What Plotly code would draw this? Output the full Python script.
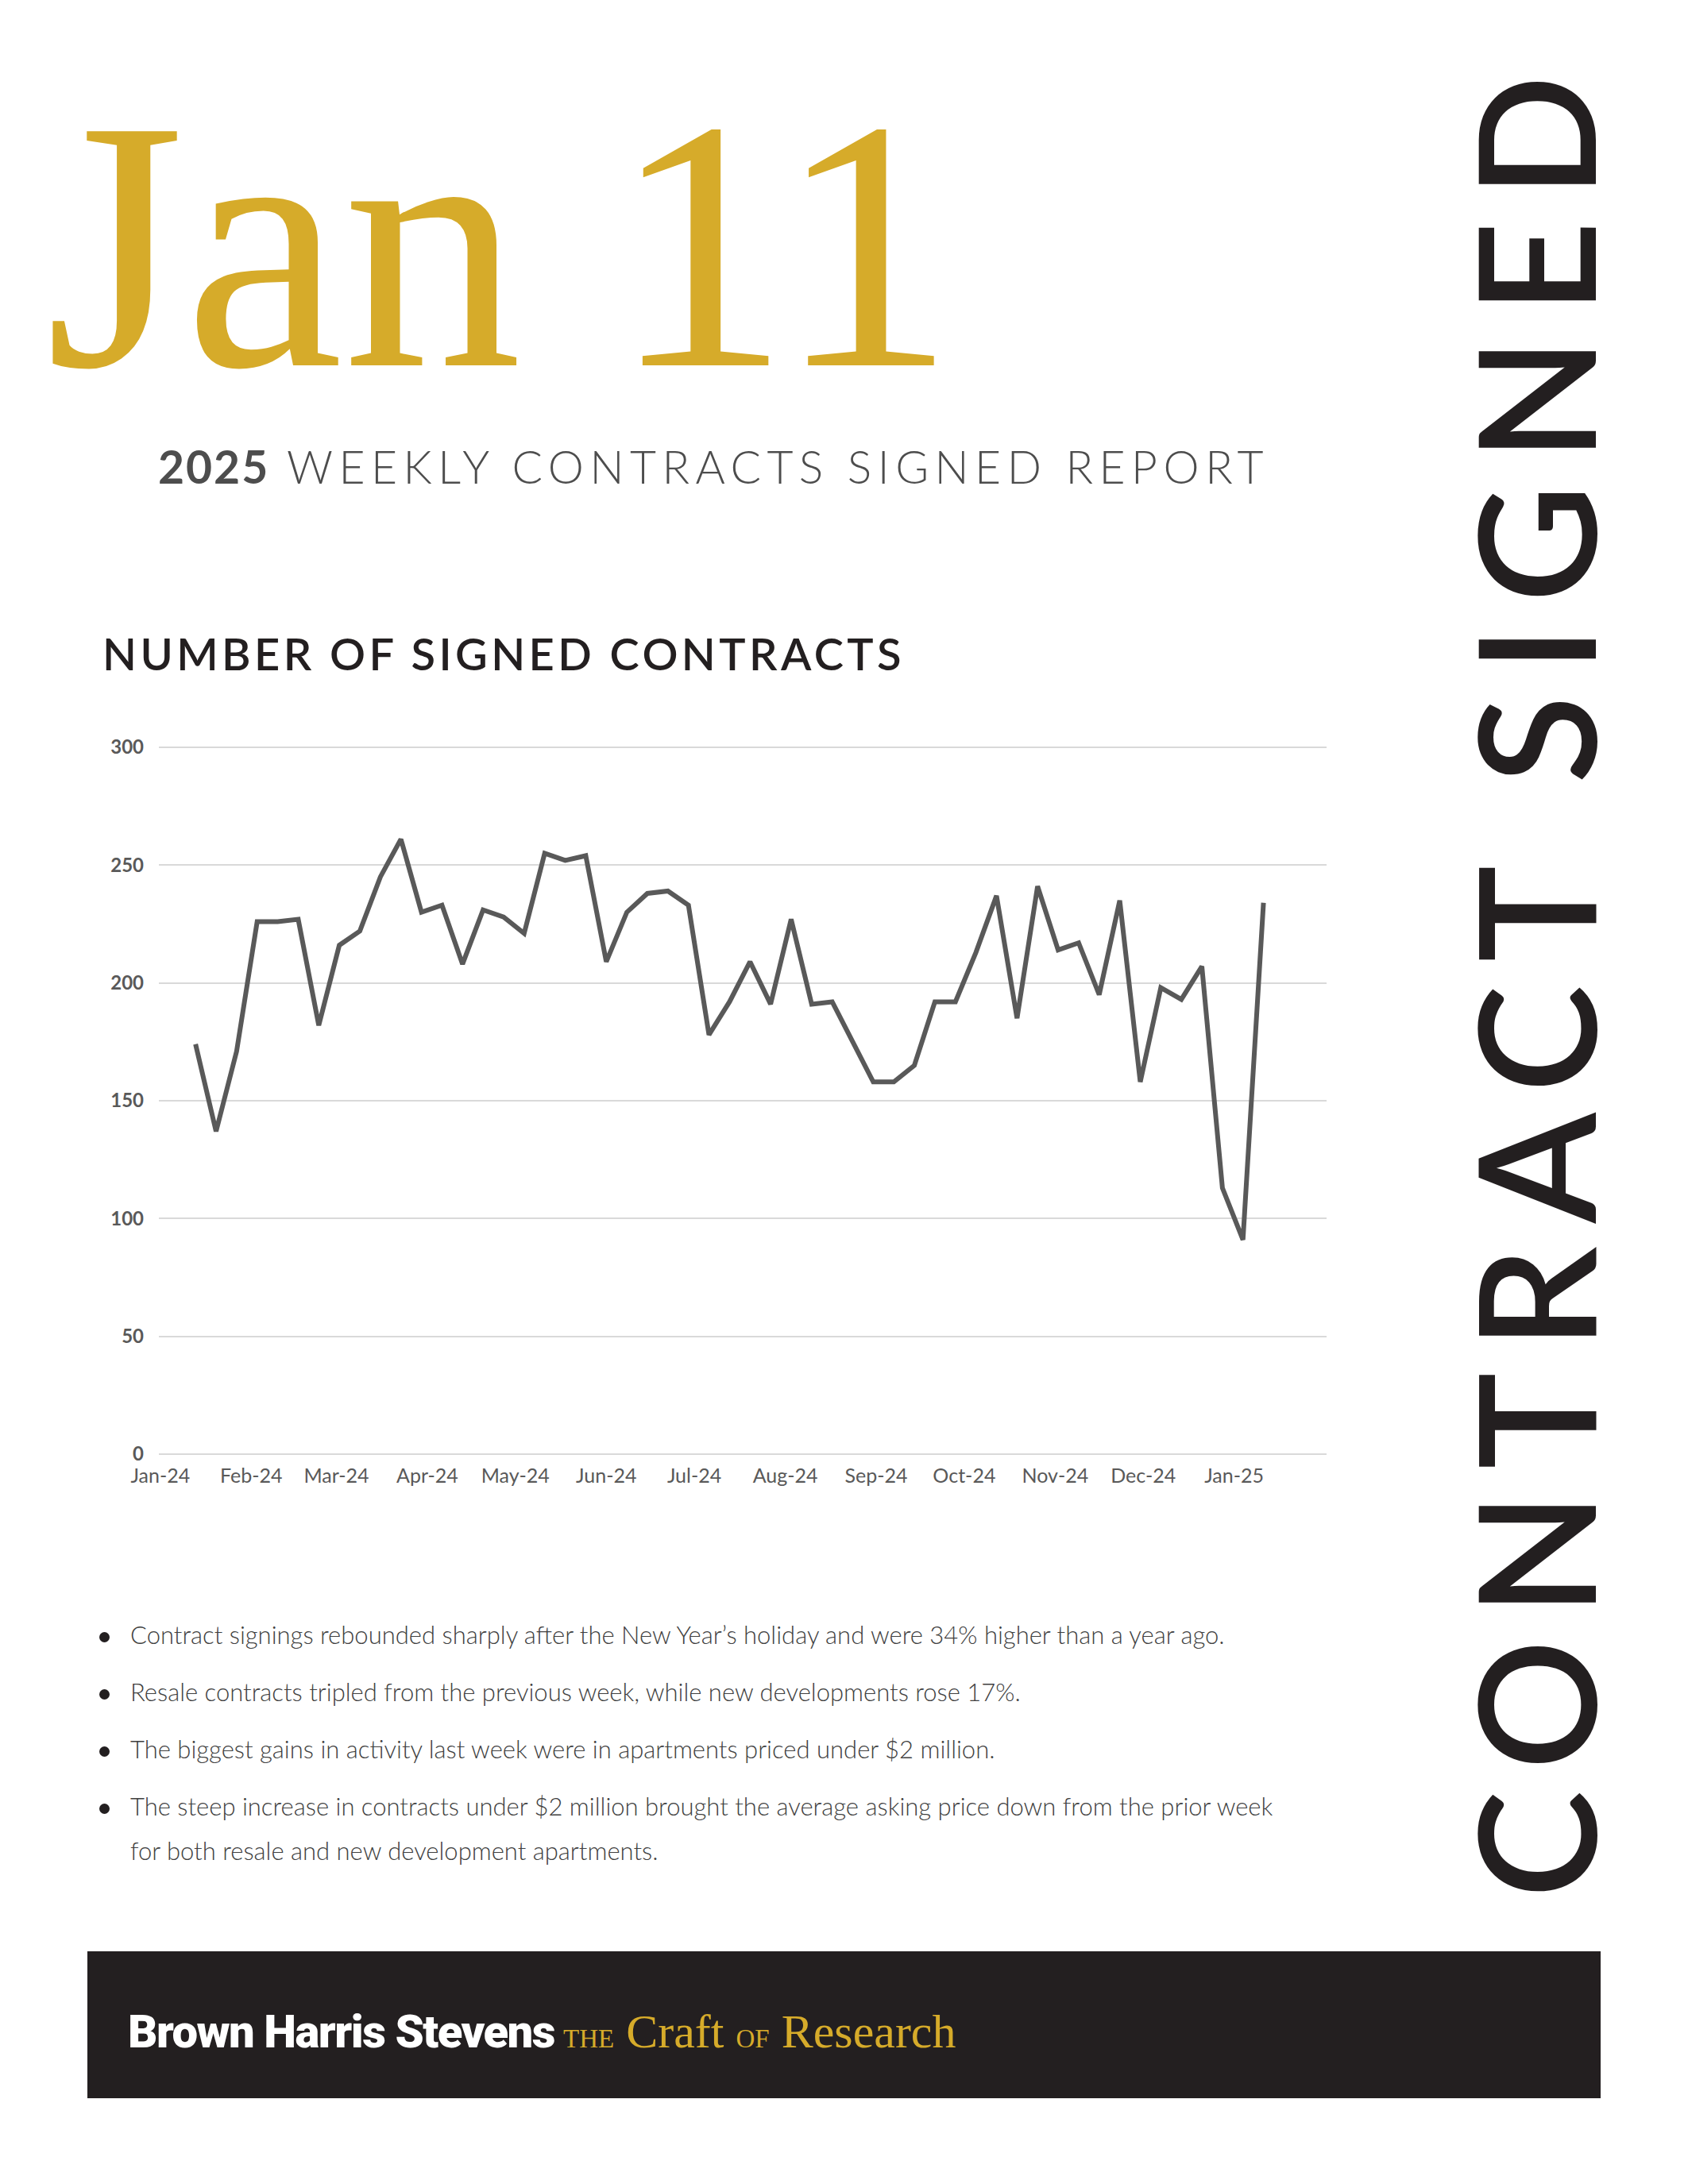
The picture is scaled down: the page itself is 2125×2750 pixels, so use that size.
import plotly.graph_objects as go

W, H = 2125, 2750

# ---------------- data ----------------
week_ending = [
    "2024-01-13", "2024-01-20", "2024-01-27", "2024-02-03", "2024-02-10", "2024-02-17",
    "2024-02-24", "2024-03-02", "2024-03-09", "2024-03-16", "2024-03-23", "2024-03-30",
    "2024-04-06", "2024-04-13", "2024-04-20", "2024-04-27", "2024-05-04", "2024-05-11",
    "2024-05-18", "2024-05-25", "2024-06-01", "2024-06-08", "2024-06-15", "2024-06-22",
    "2024-06-29", "2024-07-06", "2024-07-13", "2024-07-20", "2024-07-27", "2024-08-03",
    "2024-08-10", "2024-08-17", "2024-08-24", "2024-08-31", "2024-09-07", "2024-09-14",
    "2024-09-21", "2024-09-28", "2024-10-05", "2024-10-12", "2024-10-19", "2024-10-26",
    "2024-11-02", "2024-11-09", "2024-11-16", "2024-11-23", "2024-11-30", "2024-12-07",
    "2024-12-14", "2024-12-21", "2024-12-28", "2025-01-04", "2025-01-11",
]
signed_contracts = [
    174, 137, 171, 226, 226, 227, 182, 216, 222, 245, 261, 230, 233, 208, 231, 228, 221,
    255, 252, 254, 209, 230, 238, 239, 233, 178, 192, 209, 191, 227, 191, 192, 175, 158,
    158, 165, 192, 192, 213, 237, 185, 241, 214, 217, 195, 235, 158, 198, 193, 207, 113,
    91, 234,
]
month_ticks = [
    "2024-01-01", "2024-02-01", "2024-03-01", "2024-04-01", "2024-05-01", "2024-06-01",
    "2024-07-01", "2024-08-01", "2024-09-01", "2024-10-01", "2024-11-01", "2024-12-01",
    "2025-01-01",
]
month_labels = [
    "Jan-24", "Feb-24", "Mar-24", "Apr-24", "May-24", "Jun-24", "Jul-24", "Aug-24",
    "Sep-24", "Oct-24", "Nov-24", "Dec-24", "Jan-25",
]
y_ticks = [0, 50, 100, 150, 200, 250, 300]

bullet_lines = [
    "Contract signings rebounded sharply after the New Year\u2019s holiday and were 34% higher than a year ago.",
    "Resale contracts tripled from the previous week, while new developments rose 17%.",
    "The biggest gains in activity last week were in apartments priced under $2 million.",
    "The steep increase in contracts under $2 million brought the average asking price down from the prior week",
    "for both resale and new development apartments.",
]
bullet_has_dot = [True, True, True, True, False]

GOLD = "#D6AB2A"
INK = "#231F20"
GRAY = "#595959"


def px(x):
    return x / W


def py(y):
    return 1 - y / H


fig = go.Figure()
fig.add_trace(
    go.Scatter(
        x=week_ending,
        y=signed_contracts,
        mode="lines",
        line=dict(color=GRAY, width=6),
        hoverinfo="skip",
        showlegend=False,
    )
)

fig.update_layout(
    width=W,
    height=H,
    margin=dict(l=0, r=0, t=0, b=0, autoexpand=False),
    paper_bgcolor="white",
    plot_bgcolor="white",
    showlegend=False,
    xaxis=dict(
        domain=[200 / W, 1670 / W],
        type="date",
        range=["2023-12-31 12:00", "2025-02-01 12:00"],
        tickvals=month_ticks,
        ticktext=month_labels,
        showgrid=False,
        zeroline=False,
        showline=False,
        ticks="",
        automargin=False,
        tickfont=dict(family="Lato", size=25, color=GRAY),
        ticklabelstandoff=8,
    ),
    yaxis=dict(
        domain=[1 - 1832.5 / H, 1 - 939.5 / H],
        range=[-0.5, 300.5],
        tickvals=y_ticks,
        showgrid=True,
        gridcolor="#D9D9D9",
        gridwidth=2,
        zeroline=False,
        showline=False,
        ticks="",
        automargin=False,
        tickfont=dict(family="Lato", size=24, color=GRAY, weight=700),
        ticklabelstandoff=18,
    ),
)


def note(text, x, y, size, color, family="Lato", weight=400, xanchor="left",
         yanchor="middle", angle=0):
    fig.add_annotation(
        text=text, x=px(x), y=py(y), xref="paper", yref="paper",
        xanchor=xanchor, yanchor=yanchor, showarrow=False, textangle=angle,
        borderpad=0,
        font=dict(family=family, size=size, color=color, weight=weight),
    )


# Big date
note("Jan 11", 56, 308, 450, GOLD, family="Liberation Serif")

# Subtitle
note("<span style='font-weight:700;letter-spacing:2px'>2025</span>"
     "<span style='letter-spacing:7.5px'> WEEKLY CONTRACTS SIGNED REPORT</span>",
     198, 587, 57, "#4D4D4D", weight=300)

# Section heading
note("<span style='letter-spacing:4.4px'>NUMBER OF SIGNED CONTRACTS</span>",
     128, 822, 56, INK, weight=600)

# Vertical title
note("<span style='letter-spacing:29px'>CONTRACT SIGNED</span>",
     1930, 1228, 204, INK, weight=600, xanchor="center", angle=-90)

# Bullets
line_y = [2058, 2130, 2202, 2274, 2330]
for txt, yy, dot in zip(bullet_lines, line_y, bullet_has_dot):
    note(txt, 163, yy, 31, "#404040", weight=300)
    if dot:
        fig.add_shape(type="circle", xref="paper", yref="paper",
                      x0=px(125), x1=px(138), y0=py(yy + 10), y1=py(yy - 3),
                      fillcolor="#231F20", line=dict(width=0))

# Footer bar
fig.add_shape(type="rect", xref="paper", yref="paper",
              x0=px(110), x1=px(2015), y0=py(2642), y1=py(2457),
              fillcolor=INK, line=dict(width=0), layer="below")
note("<span style='letter-spacing:-1.5px'>Brown Harris Stevens</span>", 160, 2558, 58,
     "white", family="Roboto", weight=900)
note("<span style='font-size:33px'>THE</span> Craft <span style='font-size:33px'>OF</span> Research",
     708, 2558, 60, GOLD, family="Liberation Serif")

fig.write_html("out.html")
